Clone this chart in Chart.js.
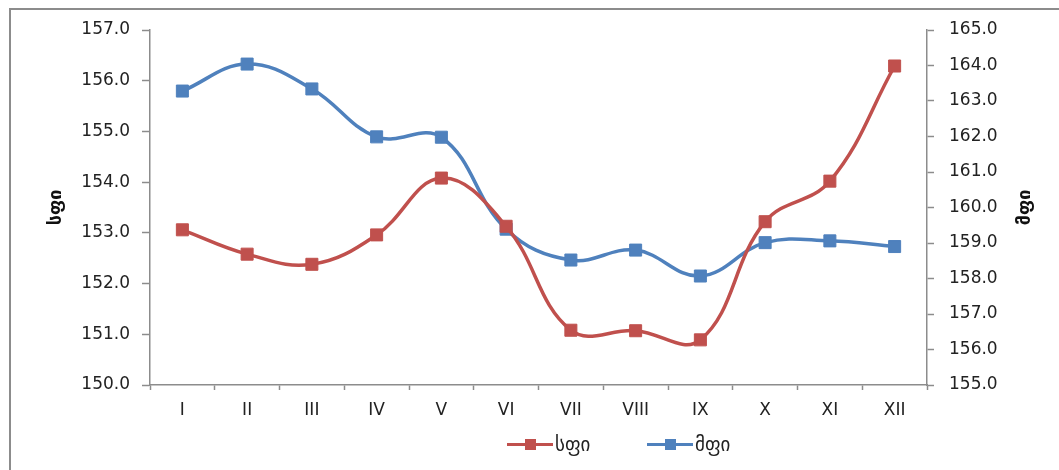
<!DOCTYPE html>
<html><head><meta charset="utf-8">
<script src="https://cdn.jsdelivr.net/npm/chart.js@4/dist/chart.umd.min.js"></script>
<style>
html,body{margin:0;padding:0;background:#fff;overflow:hidden;}
#wrap{position:relative;width:1059px;height:470px;}
#frame{position:absolute;left:9px;top:8px;width:1200px;height:600px;border:2px solid #8c8c8c;box-sizing:border-box;pointer-events:none;}
#legend{position:absolute;top:433px;left:507px;font-family:"DejaVu Sans",sans-serif;font-size:19px;color:#222;display:flex;align-items:center;}
.item{display:flex;align-items:center;}
.sym{position:relative;width:46px;height:20px;margin-right:2px;}
.sym .ln{position:absolute;left:0;right:0;top:9px;height:3px;}
.sym .mk{position:absolute;left:18px;top:5px;width:11px;height:11px;}
</style></head>
<body><div id="wrap">
<canvas id="c" width="1059" height="470"></canvas>
<div id="frame"></div>
<div id="legend"></div>
</div>
<script>
const categories = ["I","II","III","IV","V","VI","VII","VIII","IX","X","XI","XII"];
const sfiValues = [153.06,152.58,152.38,152.96,154.08,153.13,151.08,151.07,150.89,153.22,154.02,156.29];
const mfiValues = [163.28,164.04,163.34,161.99,161.98,159.39,158.52,158.80,158.07,159.01,159.06,158.90];
const seriesNames = ["სფი","მფი"];
const leftTitle = "სფი";
const rightTitle = "მფი";
const red = "#C0504D", blue = "#4F81BD";
const FONT = {family:"DejaVu Sans", size:17};

const lg = document.getElementById('legend');
[[seriesNames[0],red,0],[seriesNames[1],blue,1]].forEach(([n,c,i])=>{
  const it=document.createElement('div');it.className='item';
  if(i===0) it.style.width='140px';
  it.innerHTML='<div class="sym"><div class="ln" style="background:'+c+'"></div><div class="mk" style="background:'+c+'"></div></div><span>'+n+'</span>';
  lg.appendChild(it);
});

const titles = {
  id:'titles',
  afterDraw(chart){
    const ctx=chart.ctx; const a=chart.chartArea;
    ctx.save();
    ctx.font='bold 18px "DejaVu Sans"';
    ctx.fillStyle='#111';
    ctx.textAlign='center';ctx.textBaseline='middle';
    const cy=(a.top+a.bottom)/2;
    [[56,leftTitle],[1025,rightTitle]].forEach(([x,t])=>{
      ctx.save();ctx.translate(x,cy);ctx.rotate(-Math.PI/2);ctx.fillText(t,0,0);ctx.restore();
    });
    ctx.restore();
  }
};

const gridCol = '#8c8c8c';
new Chart(document.getElementById('c'),{
  type:'line',
  data:{labels:categories,datasets:[
    {label:seriesNames[0],data:sfiValues,yAxisID:'y',borderColor:red,backgroundColor:red,borderWidth:3.5,tension:0.4,pointStyle:'rect',pointRadius:8.5,pointBorderWidth:1,pointBorderColor:red,pointBackgroundColor:red},
    {label:seriesNames[1],data:mfiValues,yAxisID:'y1',borderColor:blue,backgroundColor:blue,borderWidth:3.5,tension:0.4,pointStyle:'rect',pointRadius:8.5,pointBorderWidth:1,pointBorderColor:blue,pointBackgroundColor:blue}
  ]},
  options:{
    responsive:false,animation:false,
    layout:{padding:{left:10,top:30,right:0,bottom:0}},
    plugins:{legend:{display:false},tooltip:{enabled:false}},
    scales:{
      x:{offset:true,
        grid:{offset:true,drawOnChartArea:false,color:gridCol,tickLength:5,tickWidth:1.5},
        border:{color:gridCol,width:1.5},
        ticks:{font:FONT,color:'#222',padding:10,maxRotation:0},
        afterFit(s){s.height=85;}
      },
      y:{position:'left',min:150,max:157,
        grid:{drawOnChartArea:false,color:gridCol,tickLength:8,tickWidth:1.5},
        border:{color:gridCol,width:1.5},
        ticks:{stepSize:1,font:FONT,color:'#222',padding:12,callback:v=>v.toFixed(1)},
        afterFit(s){s.width=140;}
      },
      y1:{position:'right',min:155,max:165,
        grid:{drawOnChartArea:false,color:gridCol,tickLength:7,tickWidth:1.5},
        border:{color:gridCol,width:1.5},
        ticks:{stepSize:1,font:FONT,color:'#222',padding:15,callback:v=>v.toFixed(1)},
        afterFit(s){s.width=132;}
      }
    }
  },
  plugins:[titles]
});
</script>
</body></html>
